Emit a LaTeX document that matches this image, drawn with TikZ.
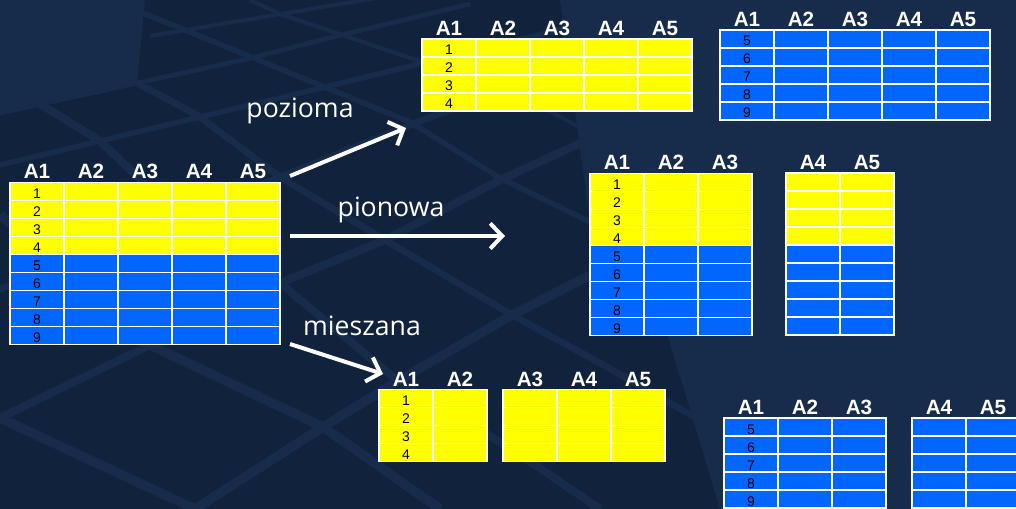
\documentclass[tikz,border=0pt]{standalone}
\usepackage{fontspec}
\setmainfont{Liberation Sans}
\newfontfamily\podpis{Open Sans}
\usetikzlibrary{arrows.meta}

\definecolor{tlo}{HTML}{172C4B}
\definecolor{kafel}{HTML}{11233C}
\definecolor{zolty}{HTML}{FFFF00}
\definecolor{niebieski}{HTML}{0066FF}

% tabela: x, y (gorny lewy rog), pierwsza i ostatnia kolumna, pierwszy i ostatni wiersz, nazwa
\newcommand{\tabela}[7]{%
  \begin{scope}[shift={(#1,#2)}]
    \pgfmathtruncatemacro\nk{#4-#3+1}
    \pgfmathtruncatemacro\nkm{#4-#3}
    \pgfmathtruncatemacro\nw{#6-#5+1}
    \pgfmathtruncatemacro\nwm{#6-#5}
    \foreach \r in {#5,...,#6}{
      \pgfmathtruncatemacro\i{\r-#5}
      \ifnum\r<5 \def\kol{zolty}\else\def\kol{niebieski}\fi
      \fill[\kol] (0,\i*18) rectangle (\nk*54,\i*18+18);
      \ifnum#3=1 \node[nr] (#7-r\r) at (27,\i*18+16) {\r};\fi
    }
    \foreach \c in {1,...,\nkm} \draw[siatka] (\c*54,0) -- (\c*54,\nw*18);
    \foreach \w in {1,...,\nwm} \draw[siatka] (0,\w*18) -- (\nk*54,\w*18);
    \draw[siatka] (0,0) rectangle (\nk*54,\nw*18);
    \foreach \c in {#3,...,#4}{
      \pgfmathtruncatemacro\j{\c-#3}
      \node[nag] (#7-a\c) at (\j*54+27,-3.5) {A\c};
    }
  \end{scope}}

\begin{document}
\begin{tikzpicture}[x=0.75pt,y=-0.75pt,
  nag/.style={anchor=base,inner sep=0pt,text=white,font=\bfseries\fontsize{15.5}{15.5}\selectfont},
  nr/.style={anchor=base,inner sep=0pt,font=\fontsize{10.5}{10.5}\selectfont},
  siatka/.style={draw=white,line width=1.2pt},
  szew/.style={draw=tlo,line width=5pt,line join=round},
  etykieta/.style={anchor=base,inner sep=0pt,text=white,font=\podpis\fontsize{20}{20}\selectfont},
  strz/.style={draw=white,line width=3pt,-{Straight Barb[length=9pt,width=19pt]}}]
\useasboundingbox (0,0) rectangle (1016,509);
\fill[tlo] (0,0) rectangle (1016,509);

% ciemna posadzka w tle, jasne szwy miedzy kaflami
\begin{scope}
  \clip (137,83) -- (145,0) -- (560,0) -- (590,222) -- (640,245) -- (720,509) -- (0,509) -- (0,112) -- cycle;
  \fill[kafel] (0,0) rectangle (1016,509);
  \draw[szew,line width=3pt] (150,36) -- (460,-16);
  \draw[szew,line width=3.5pt] (0,113) -- (137,83) -- (243,60) -- (333,37) -- (470,4);
  \draw[szew,line width=4pt] (0,165) -- (200,117) -- (313,90) -- (620,15);
  \draw[szew] (0,289) -- (280,177) -- (410,125) -- (620,45);
  \draw[szew,line width=6pt] (0,418) -- (150,345) -- (280,283) -- (385,240) -- (500,180) -- (620,125);
  \draw[szew,line width=7pt] (195,509) -- (323,427) -- (398,381) -- (512,315) -- (660,240);
  \draw[szew,line width=3pt] (250,0) -- (280,14) -- (520,95) -- (640,160);
  \draw[szew,line width=4pt] (110,0) -- (190,32) -- (410,122) -- (500,178) -- (590,222) -- (660,255);
  \draw[szew] (60,48) -- (137,83) -- (197,115) -- (280,177) -- (385,240) -- (512,315) -- (600,363) -- (700,420);
  \draw[szew,line width=6pt] (40,104) -- (100,141) -- (180,217) -- (280,283) -- (398,381) -- (513,450) -- (600,509);
  \draw[szew,line width=7pt] (0,215) -- (60,265) -- (150,345) -- (323,427) -- (440,509);
  \draw[szew,line width=7pt] (0,418) -- (195,509);
\end{scope}

% tabela wyjsciowa
\tabela{10}{182.5}{1}{5}{1}{9}{t}
% fragmentacja pozioma
\tabela{422}{39}{1}{5}{1}{4}{pz1}
\tabela{720}{30}{1}{5}{5}{9}{pz2}
% fragmentacja pionowa
\tabela{590}{173.5}{1}{3}{1}{9}{pn1}
\tabela{786}{173}{4}{5}{1}{9}{pn2}
% fragmentacja mieszana
\tabela{379}{389.5}{1}{2}{1}{4}{m1}
\tabela{503}{389.5}{3}{5}{1}{4}{m2}
\tabela{724}{418}{1}{3}{5}{9}{m3}
\tabela{912}{418}{4}{5}{5}{9}{m4}

\node[etykieta] (poz) at (300,118) {pozioma};
\node[etykieta] (pio) at (391,216.5) {pionowa};
\node[etykieta] (mie) at (362,335) {mieszana};

\coordinate (s1) at (290,176);
\coordinate (k1) at (406,128);
\coordinate (s2) at (290,236);
\coordinate (k2) at (505,236);
\coordinate (s3) at (290,344);
\coordinate (k3) at (383,374);
\draw[strz] (s1) -- (k1);
\draw[strz] (s2) -- (k2);
\draw[strz] (s3) -- (k3);
\end{tikzpicture}
\end{document}
